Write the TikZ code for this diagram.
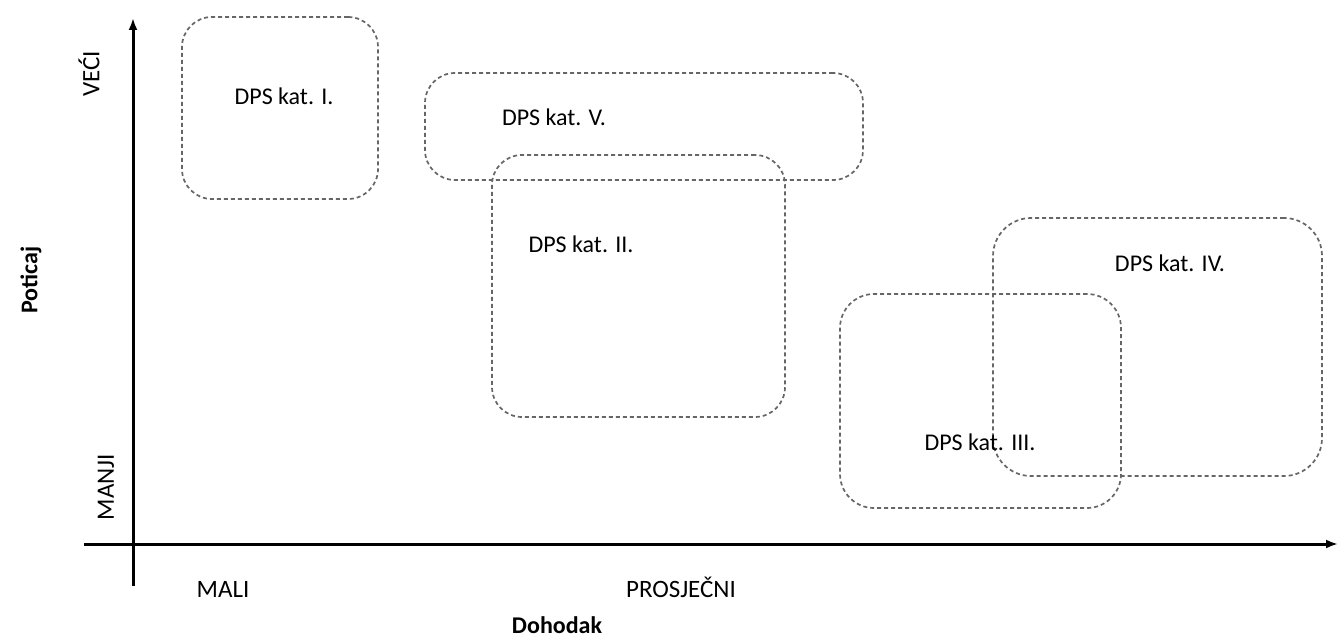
\documentclass[tikz,border=0pt]{standalone}
\usepackage{fontspec}
\setmainfont{Carlito}
\usetikzlibrary{arrows.meta}
\tikzset{
  region/.style={draw=black!60, line width=1.7pt, dash pattern=on 4pt off 3pt, rounded corners=30pt, inner sep=0pt},
  lbl/.style={font=\fontsize{24}{28}\selectfont, text=black, inner sep=0pt},
  axlbl/.style={font=\fontsize{25}{29}\selectfont, text=black, inner sep=0pt},
  axtitle/.style={font=\bfseries\fontsize{24}{28}\selectfont, text=black, inner sep=0pt},
  axis/.style={line width=3pt, -{Latex[length=12pt,width=9pt]}}
}
\begin{document}
\begin{tikzpicture}[x=1pt,y=-1pt]
\useasboundingbox (0,0) rectangle (1338,639);
% regions
\node[region, minimum width=196pt, minimum height=182pt] (r1) at (280,108) {};
\node[region, minimum width=438pt, minimum height=107pt] (r5) at (644,126.5) {};
\node[region, minimum width=293pt, minimum height=262pt] (r2) at (638.5,286) {};
\node[region, minimum width=329pt, minimum height=258pt, rounded corners=38pt] (r4) at (1157.5,347) {};
\node[region, minimum width=281pt, minimum height=214pt, rounded corners=34pt] (r3) at (980.5,401) {};
% labels
\node[lbl] (t1) at (284,96) {DPS kat. I.};
\node[lbl] (t5) at (554,117) {DPS kat. V.};
\node[lbl] (t2) at (581,244) {DPS kat. II.};
\node[lbl] (t4) at (1170,263) {DPS kat. IV.};
\node[lbl] (t3) at (980,442) {DPS kat. III.};
% axes
\coordinate (yb) at (133,586);
\coordinate (yt) at (133,18);
\coordinate (xl) at (84,544);
\coordinate (xr) at (1338,544);
\draw[axis] (yb) -- (yt);
\draw[axis] (xl) -- (xr);
% axis labels
\node[axlbl, rotate=90] (veci) at (89,74) {VEĆI};
\node[axlbl, rotate=90] (manji) at (106,487) {MANJI};
\node[axtitle, rotate=90] (poticaj) at (31,280) {Poticaj};
\node[axlbl, anchor=base] (mali) at (223,597) {MALI};
\node[axlbl, anchor=base] (prosj) at (681,597) {PROSJEČNI};
\node[axtitle] (doh) at (557,625) {Dohodak};
\end{tikzpicture}
\end{document}
